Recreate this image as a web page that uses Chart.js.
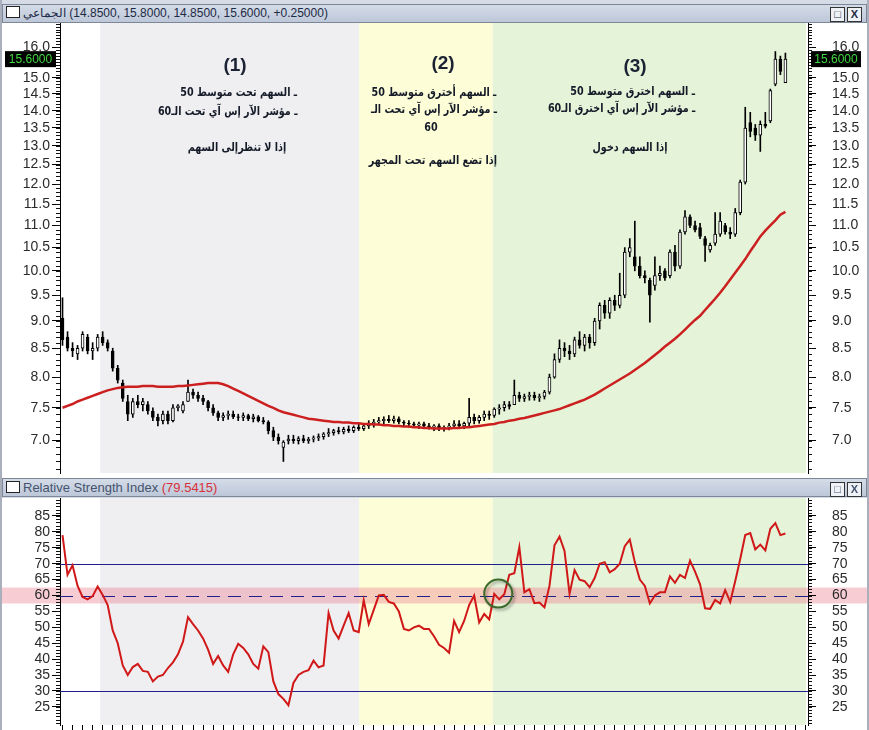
<!DOCTYPE html>
<html>
<head>
<meta charset="utf-8">
<script src="https://cdn.jsdelivr.net/npm/chart.js@4.4.0/dist/chart.umd.min.js"></script>
<style>
  body { margin: 0; width: 869px; height: 730px; background: #d6dce6; position: relative; overflow: hidden; font-family: "Liberation Sans", Arial, sans-serif; }
  .bar { position: absolute; left: 2px; width: 863px; height: 17px; background: linear-gradient(#d5dce8, #bcc7d8); border: 1px solid #7d8797; font-size: 12px; color: #1d2a44; line-height: 17px; white-space: nowrap; }
  .bar .box { display: inline-block; width: 12px; height: 10px; border: 1px solid #222; background: #fff; vertical-align: -1px; margin: 0 3px 0 3px; }
  .btns { position: absolute; right: 4px; top: 1px; }
  .btns span { display: inline-block; width: 13px; height: 13px; border: 1px solid #333; background: #eef1f6; text-align: center; line-height: 13px; font-size: 11px; margin-left: 2px; font-weight: bold; }
  canvas { position: absolute; left: 0; background: #fff; }
  .note { position: absolute; direction: rtl; font-family: "DejaVu Sans", sans-serif; font-weight: bold; font-size: 12px; color: #141a28; line-height: 15px; white-space: nowrap; z-index: 2; transform: scaleX(0.8); }
  .note.r { text-align: right; transform-origin: right center; }
  .note.c { text-align: center; transform-origin: center center; width: 160px; }
  .head { position: absolute; font-family: "Liberation Sans", Arial, sans-serif; font-weight: bold; font-size: 19px; color: #1b2233; z-index: 2; text-align: center; width: 40px; }
  .edge { position: absolute; top: 0; width: 2px; height: 730px; background: #a9b0bb; z-index: 3; }
</style>
</head>
<body>
<div class="bar" style="top:4px"><span class="box"></span><bdi>الجماعي</bdi> (14.8500, 15.8000, 14.8500, 15.6000, +0.25000)<div class="btns"><span>□</span><span>X</span></div></div>
<canvas id="priceChart" width="869" height="456" style="top:23px"></canvas>
<div class="bar" style="top:478px; font-size:13px; color:#46536e"><span class="box"></span>Relative Strength Index <span style="color:#d8303a">(79.5415)</span><div class="btns"><span>□</span><span>X</span></div></div>
<canvas id="rsiChart" width="869" height="232" style="top:498px"></canvas>

<div class="head" style="left:215px; top:54px">(1)</div>
<div class="note r" style="right:572px; top:85px">ـ السهم تحت متوسط 50</div>
<div class="note r" style="right:572px; top:104px">ـ مؤشر الآر إس آي تحت الـ60</div>
<div class="note c" style="left:157px; top:140px">إذا لا تنظرإلى السهم</div>

<div class="head" style="left:423px; top:52px">(2)</div>
<div class="note c" style="left:354px; top:85px">ـ السهم أخترق متوسط 50</div>
<div class="note c" style="left:354px; top:102px">ـ مؤشر الآر إس آي تحت الـ</div>
<div class="note c" style="left:351px; top:120px">60</div>
<div class="note c" style="left:353px; top:153px">إذا تضع السهم تحت المجهر</div>

<div class="head" style="left:615px; top:55px">(3)</div>
<div class="note r" style="right:174px; top:84px">ـ السهم اخترق متوسط 50</div>
<div class="note r" style="right:174px; top:101px">ـ مؤشر الآر إس آي اخترق الـ60</div>
<div class="note c" style="left:550px; top:140px">إذا السهم دخول</div>

<div class="edge" style="left:0"></div>
<div class="edge" style="left:867px"></div>

<script>
// one slot per trading bar, a few empty slots keep room on the right
const labels = Array.from({ length: 149 }, (_, i) => i);

const opens = [
  9.05, 8.7, 8.5, 8.4, 8.5, 8.7, 8.45, 8.5, 8.7, 8.6,
  8.45, 8.15, 7.9, 7.6, 7.4, 7.6, 7.55, 7.55, 7.45, 7.35,
  7.3, 7.4, 7.3, 7.5, 7.45, 7.6, 7.75, 7.7, 7.65, 7.6,
  7.5, 7.42, 7.35, 7.38, 7.4, 7.36, 7.35, 7.38, 7.33, 7.36,
  7.3, 7.28, 7.15, 7.05, 6.9, 7.0, 7.02, 7.0, 7.03, 7.0,
  7.02, 7.04, 7.06, 7.1, 7.12, 7.15, 7.13, 7.17, 7.15, 7.2,
  7.18, 7.22, 7.25, 7.28, 7.3, 7.32, 7.3, 7.33, 7.28, 7.26,
  7.25, 7.23, 7.25, 7.22, 7.2, 7.22, 7.18, 7.2, 7.22, 7.25,
  7.22, 7.26, 7.35, 7.3, 7.35, 7.4, 7.38, 7.48, 7.5, 7.55,
  7.55, 7.7, 7.65, 7.68, 7.7, 7.66, 7.68, 7.75, 8.0, 8.3,
  8.5, 8.45, 8.4, 8.65, 8.55, 8.7, 8.6, 9.0, 9.3, 9.15,
  9.4, 9.3, 9.5, 10.4, 10.3, 10.1, 9.9, 9.8, 9.7, 9.9,
  10.0, 9.9, 10.4, 10.1, 10.85, 11.2, 11.0, 10.95, 10.7, 10.45,
  10.6, 10.8, 11.0, 10.85, 10.8, 11.3, 12.05, 13.65, 13.5, 13.3,
  13.6, 13.7, 14.8, 15.6, 14.85
];
const highs = [
  9.45, 8.8, 8.6, 8.55, 8.8, 8.75, 8.6, 8.75, 8.8, 8.65,
  8.5, 8.2, 7.95, 7.7, 7.65, 7.7, 7.65, 7.6, 7.5, 7.4,
  7.45, 7.45, 7.55, 7.55, 7.6, 7.95, 7.8, 7.75, 7.7, 7.62,
  7.55, 7.45, 7.42, 7.45, 7.45, 7.4, 7.42, 7.4, 7.4, 7.38,
  7.35, 7.3, 7.2, 7.1, 7.0, 7.08, 7.08, 7.06, 7.08, 7.05,
  7.07, 7.1, 7.12, 7.18, 7.17, 7.2, 7.2, 7.22, 7.22, 7.25,
  7.26, 7.3, 7.32, 7.35, 7.36, 7.38, 7.37, 7.36, 7.3, 7.3,
  7.28, 7.28, 7.28, 7.26, 7.24, 7.25, 7.22, 7.26, 7.3, 7.3,
  7.28, 7.65, 7.4, 7.38, 7.45, 7.45, 7.5, 7.55, 7.6, 7.6,
  7.95, 7.75, 7.72, 7.75, 7.75, 7.72, 7.78, 8.05, 8.4, 8.65,
  8.6, 8.55, 8.7, 8.8, 8.75, 8.75, 9.05, 9.35, 9.4, 9.45,
  9.5, 9.95, 10.5, 10.7, 11.1, 10.3, 10.0, 9.85, 10.3, 10.1,
  10.05, 10.45, 10.55, 10.9, 11.35, 11.25, 11.1, 11.05, 10.75, 10.6,
  11.3, 11.3, 11.05, 10.95, 11.4, 12.1, 14.1, 13.95, 13.6, 13.7,
  13.95, 14.65, 15.85, 15.7, 15.8
];
const lows = [
  8.55, 8.45, 8.35, 8.3, 8.45, 8.4, 8.3, 8.45, 8.55, 8.45,
  8.1, 7.9, 7.6, 7.3, 7.35, 7.5, 7.45, 7.4, 7.3, 7.22,
  7.25, 7.25, 7.28, 7.45, 7.42, 7.6, 7.65, 7.6, 7.55, 7.45,
  7.38, 7.3, 7.3, 7.32, 7.33, 7.3, 7.3, 7.3, 7.28, 7.28,
  7.25, 7.1, 7.0, 6.95, 6.7, 6.95, 6.96, 6.95, 6.97, 6.96,
  6.98, 7.0, 7.02, 7.06, 7.08, 7.1, 7.1, 7.12, 7.12, 7.15,
  7.15, 7.18, 7.2, 7.24, 7.25, 7.27, 7.26, 7.25, 7.22, 7.2,
  7.2, 7.18, 7.2, 7.17, 7.15, 7.15, 7.14, 7.16, 7.18, 7.2,
  7.18, 7.22, 7.25, 7.26, 7.3, 7.32, 7.35, 7.4, 7.45, 7.48,
  7.55, 7.6, 7.6, 7.62, 7.62, 7.6, 7.64, 7.72, 7.98, 8.25,
  8.35, 8.3, 8.35, 8.5, 8.45, 8.5, 8.55, 8.85, 9.05, 9.05,
  9.2, 9.25, 9.45, 10.3, 10.0, 9.85, 9.75, 8.98, 9.6, 9.8,
  9.8, 9.85, 10.0, 10.05, 10.8, 10.95, 10.85, 10.7, 10.2, 10.4,
  10.55, 10.75, 10.8, 10.7, 10.75, 11.25, 12.0, 13.25, 13.15, 12.85,
  13.5, 13.65, 14.75, 15.1, 14.85
];
const closes = [
  8.65, 8.5, 8.45, 8.5, 8.75, 8.45, 8.5, 8.7, 8.6, 8.5,
  8.15, 7.95, 7.65, 7.4, 7.6, 7.55, 7.6, 7.45, 7.35, 7.3,
  7.4, 7.3, 7.5, 7.53, 7.55, 7.75, 7.7, 7.65, 7.6, 7.5,
  7.42, 7.35, 7.38, 7.4, 7.36, 7.35, 7.38, 7.33, 7.36, 7.3,
  7.28, 7.15, 7.05, 7.0, 6.98, 7.02, 7.0, 7.03, 7.0, 7.02,
  7.04, 7.06, 7.1, 7.12, 7.15, 7.13, 7.17, 7.15, 7.2, 7.18,
  7.22, 7.25, 7.28, 7.3, 7.32, 7.3, 7.33, 7.28, 7.26, 7.25,
  7.23, 7.25, 7.22, 7.2, 7.22, 7.18, 7.2, 7.22, 7.25, 7.22,
  7.26, 7.35, 7.3, 7.35, 7.4, 7.38, 7.48, 7.5, 7.55, 7.52,
  7.7, 7.65, 7.68, 7.7, 7.66, 7.68, 7.75, 8.0, 8.3, 8.5,
  8.45, 8.4, 8.65, 8.55, 8.7, 8.6, 9.0, 9.3, 9.15, 9.4,
  9.3, 9.5, 10.4, 10.5, 10.1, 9.9, 9.85, 9.5, 9.9, 9.95,
  9.85, 10.4, 10.1, 10.85, 11.2, 11.0, 10.9, 10.75, 10.55, 10.55,
  10.8, 11.1, 10.85, 10.8, 11.3, 12.05, 13.5, 13.4, 13.3, 13.6,
  13.55, 14.6, 15.6, 15.2, 15.6
];

// moving average (red line in the price pane)
const movingAvg = [
  7.5, 7.53, 7.56, 7.6, 7.63, 7.66, 7.69, 7.72, 7.75, 7.78,
  7.8, 7.82, 7.83, 7.84, 7.84, 7.84, 7.85, 7.85, 7.85, 7.84,
  7.84, 7.84, 7.84, 7.85, 7.85, 7.86, 7.87, 7.88, 7.89, 7.9,
  7.9, 7.9, 7.88, 7.85, 7.81, 7.77, 7.73, 7.69, 7.65, 7.61,
  7.57, 7.53, 7.5, 7.46, 7.43, 7.41, 7.39, 7.37, 7.35, 7.33,
  7.32, 7.31, 7.3, 7.29, 7.28, 7.28, 7.27, 7.27, 7.26, 7.26,
  7.25, 7.25, 7.24, 7.24, 7.23, 7.23, 7.22, 7.22, 7.21, 7.21,
  7.2, 7.2, 7.19, 7.19, 7.18, 7.18, 7.18, 7.18, 7.19, 7.19,
  7.2, 7.2, 7.21, 7.22, 7.23, 7.24, 7.25, 7.27, 7.28, 7.3,
  7.31, 7.33, 7.34, 7.36, 7.38, 7.4, 7.42, 7.44, 7.46, 7.48,
  7.51, 7.54, 7.57, 7.6, 7.63, 7.67, 7.71, 7.76, 7.81, 7.86,
  7.91, 7.96, 8.01, 8.06, 8.12, 8.18, 8.24, 8.31, 8.38, 8.45,
  8.53, 8.6, 8.67, 8.75, 8.84, 8.93, 9.02, 9.1, 9.21, 9.32,
  9.43, 9.55, 9.68, 9.82, 9.96, 10.1, 10.25, 10.42, 10.58, 10.75,
  10.88, 11.0, 11.12, 11.25, 11.32
];

const rsiValues = [
  79, 66.5, 69.5, 63, 59.5, 58.8, 59.8, 62.8, 60.2, 57,
  49, 45, 38, 35, 37.5, 38.5, 36.3, 36, 33, 34.5,
  35, 37.2, 39, 41.5, 45.5, 53.2, 51, 49, 46.5, 43,
  38.5, 41, 38, 36, 41.5, 44.8, 43.5, 41.5, 38.5, 37,
  44, 42.2, 33, 29, 27.5, 25.5, 32.5, 35, 36, 36.5,
  39.5, 37.4, 38, 54.5, 49, 46.5, 50.5, 54.5, 49, 48.5,
  58.5, 51, 55.5, 60, 60.2, 58, 57.5, 55, 49.5, 49,
  50, 50.5, 49.5, 49.5, 47.2, 44.5, 43.5, 42, 52, 48.5,
  52, 57, 60, 51.5, 54.2, 52.5, 60.5, 58.8, 60.4, 66.5,
  67, 75.2, 61, 62, 57.6, 57.8, 56.3, 63, 75.8, 78.5,
  74, 60.5, 68, 65, 64.5, 62.6, 65.5, 70, 70.5, 67.3,
  68.3, 70, 75.5, 77.6, 70.5, 65, 63, 57.5, 60, 61,
  61, 66, 64, 66.5, 65.5, 71, 67.5, 63.5, 56, 55.8,
  58.6, 57.5, 61.7, 58, 64.5, 71.5, 79, 79.6, 74.5, 76,
  74.2, 81, 82.8, 79, 79.5
];

const priceTicks = [7.0, 7.5, 8.0, 8.5, 9.0, 9.5, 10.0, 10.5, 11.0, 11.5, 12.0, 12.5, 13.0, 13.5, 14.0, 14.5, 15.0, 15.5, 16.0];
const rsiTicks = [25, 30, 35, 40, 45, 50, 55, 60, 65, 70, 75, 80, 85];
const rsiLevels = [70, 30];
const rsiSignal = 60;

// phase boundaries, in bar slots: before (1), (1), (2), (3)
const zoneEdges = [7.5, 59.1, 85.7, 148.1];
const zoneColors = ['#efeff1', '#fdfdd7', '#e5f3d9'];

const lastPrice = closes[closes.length - 1];
const tickFont = { family: 'Liberation Sans', size: 14 };

function shadeZones(chart) {
    const { ctx, chartArea: a, scales: { x } } = chart;
    ctx.save();
    for (let k = 0; k < zoneColors.length; k++) {
        const x0 = x.getPixelForValue(zoneEdges[k]);
        const x1 = x.getPixelForValue(zoneEdges[k + 1]);
        ctx.fillStyle = zoneColors[k];
        ctx.fillRect(x0, a.top, x1 - x0, a.bottom - a.top);
    }
    ctx.restore();
}

function minorTicks(chart, from, to, step) {
    const { ctx, chartArea: a } = chart;
    ctx.save();
    ctx.strokeStyle = '#111';
    ctx.lineWidth = 1;
    ctx.beginPath();
    for (const id of ['y', 'y2']) {
        const s = chart.scales[id];
        const left = s.position === 'left';
        const edge = left ? s.right : s.left;
        for (let k = 0; from + k * step <= to + 1e-9; k++) {
            const py = Math.round(s.getPixelForValue(from + k * step)) + 0.5;
            if (py < a.top || py > a.bottom) continue;
            ctx.moveTo(edge, py);
            ctx.lineTo(edge + (left ? -4 : 4), py);
        }
    }
    ctx.stroke();
    ctx.restore();
}

function yAxis(position, type, min, max, ticks, fmt) {
    return {
        type: type,
        position: position,
        min: min,
        max: max,
        afterBuildTicks: s => { s.ticks = ticks.map(v => ({ value: v })); },
        afterFit: s => { s.width = position === 'left' ? 60 : 61; s.paddingTop = 0; s.paddingBottom = 0; },
        ticks: { callback: fmt, font: tickFont, color: '#2a2a2a', padding: position === 'left' ? 2 : 16, autoSkip: false },
        grid: { drawOnChartArea: false, tickLength: 8, color: '#000' },
        border: { color: '#000' }
    };
}

// ---------- price pane ----------
const pricePlugin = {
    id: 'pricePane',
    beforeDraw: chart => shadeZones(chart),
    afterDraw(chart) {
        minorTicks(chart, 6.6, 16.8, 0.1);
        const { ctx } = chart;
        const y = chart.scales.y.getPixelForValue(lastPrice);
        ctx.save();
        ctx.fillStyle = '#000';
        ctx.fillRect(5, y - 8, 51, 16);
        ctx.fillRect(811, y - 8, 50, 16);
        ctx.fillStyle = '#3fd83f';
        ctx.font = '12px "Liberation Sans"';
        ctx.textAlign = 'center';
        ctx.textBaseline = 'middle';
        ctx.fillText(lastPrice.toFixed(4), 30.5, y + 1);
        ctx.fillText(lastPrice.toFixed(4), 836, y + 1);
        ctx.restore();
    }
};

new Chart(document.getElementById('priceChart'), {
    type: 'bar',
    data: {
        labels: labels,
        datasets: [
            {
                type: 'line',
                data: movingAvg,
                borderColor: '#cc2020',
                borderWidth: 2.5,
                pointRadius: 0,
                order: 0
            },
            {
                data: opens.map((o, i) => [o, closes[i]]),
                backgroundColor: opens.map((o, i) => closes[i] < o ? '#000' : '#fff'),
                borderColor: '#000',
                borderWidth: 1,
                borderSkipped: false,
                barThickness: 3,
                grouped: false,
                order: 1
            },
            {
                data: lows.map((l, i) => [l, highs[i]]),
                backgroundColor: '#000',
                borderWidth: 0,
                barThickness: 1,
                grouped: false,
                order: 2
            }
        ]
    },
    options: {
        responsive: false,
        animation: false,
        layout: { padding: { top: 0, bottom: 6 } },
        plugins: { legend: { display: false }, tooltip: { enabled: false } },
        scales: {
            x: { type: 'category', offset: true, display: false },
            y: yAxis('left', 'logarithmic', 6.54, 16.83, priceTicks, v => Number(v).toFixed(1)),
            y2: yAxis('right', 'logarithmic', 6.54, 16.83, priceTicks, v => Number(v).toFixed(1))
        }
    },
    plugins: [pricePlugin]
});

// ---------- RSI pane ----------
const rsiPlugin = {
    id: 'rsiPane',
    beforeDraw(chart) {
        shadeZones(chart);
        const { ctx, scales: { y } } = chart;
        const top = y.getPixelForValue(rsiSignal + 2.5);
        const bottom = y.getPixelForValue(rsiSignal - 2.5);
        ctx.save();
        ctx.fillStyle = 'rgba(236, 120, 140, 0.38)';
        ctx.fillRect(0, top, chart.width, bottom - top);
        ctx.restore();
    },
    beforeDatasetsDraw(chart) {
        const { ctx, chartArea: a, scales: { y } } = chart;
        ctx.save();
        ctx.strokeStyle = '#20208a';
        ctx.lineWidth = 1;
        for (const v of rsiLevels) {
            const py = Math.round(y.getPixelForValue(v)) + 0.5;
            ctx.beginPath();
            ctx.moveTo(a.left, py);
            ctx.lineTo(a.right, py);
            ctx.stroke();
        }
        const ps = Math.round(y.getPixelForValue(rsiSignal)) + 0.5;
        ctx.setLineDash([13, 8]);
        ctx.beginPath();
        ctx.moveTo(a.left, ps);
        ctx.lineTo(a.right, ps);
        ctx.stroke();
        ctx.restore();
    },
    afterDatasetsDraw(chart) {
        // circle where RSI crosses back above 60
        const { ctx, scales: { x, y } } = chart;
        ctx.save();
        ctx.shadowColor = 'rgba(0,0,0,0.35)';
        ctx.shadowBlur = 3;
        ctx.shadowOffsetX = 2;
        ctx.shadowOffsetY = 2;
        ctx.strokeStyle = '#3b6a2a';
        ctx.lineWidth = 2;
        ctx.beginPath();
        ctx.arc(x.getPixelForValue(86.8), y.getPixelForValue(60.6), 14, 0, Math.PI * 2);
        ctx.stroke();
        ctx.restore();
    },
    afterDraw: chart => minorTicks(chart, 20, 90, 1)
};

new Chart(document.getElementById('rsiChart'), {
    type: 'line',
    data: {
        labels: labels,
        datasets: [{
            data: rsiValues,
            borderColor: '#d01818',
            borderWidth: 2,
            pointRadius: 0
        }]
    },
    options: {
        responsive: false,
        animation: false,
        plugins: { legend: { display: false }, tooltip: { enabled: false } },
        scales: {
            x: {
                type: 'category',
                offset: true,
                ticks: { display: false, autoSkip: false },
                grid: { drawOnChartArea: false, tickLength: 5, color: c => c.index % 2 === 0 ? '#000' : 'transparent' },
                border: { display: false },
                afterFit: s => { s.height = 5; s.paddingLeft = 0; s.paddingRight = 0; }
            },
            y: yAxis('left', 'linear', 19.28, 90.66, rsiTicks, v => v),
            y2: yAxis('right', 'linear', 19.28, 90.66, rsiTicks, v => v)
        }
    },
    plugins: [rsiPlugin]
});
</script>
</body>
</html>
